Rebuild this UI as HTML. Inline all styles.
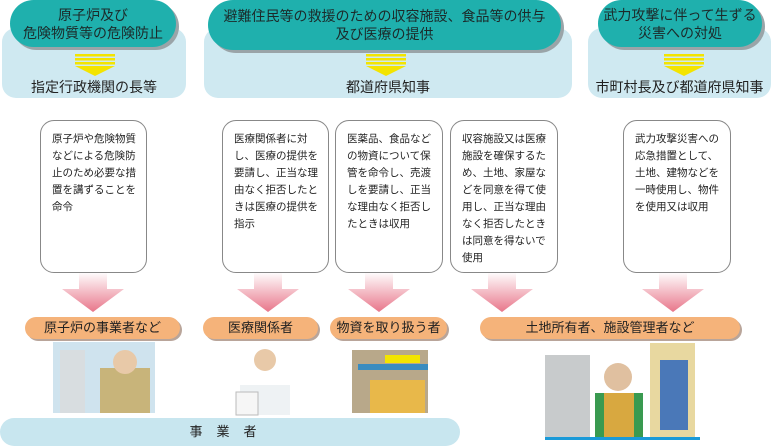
<!DOCTYPE html>
<html><head><meta charset="utf-8"><style>
body{margin:0;width:773px;height:446px;background:#fff;position:relative;overflow:hidden;font-family:"Liberation Sans","Noto Sans CJK JP",sans-serif;}
.a{position:absolute;box-sizing:border-box}
.panel{background:#cfe9f1;border-radius:14px}
.pill{background:#1fb0ad;border-radius:28px;color:#1c2a2a;text-align:center;font-size:14px;line-height:18px;box-shadow:3px 3px 0 #9aa4a8;display:flex;align-items:center;justify-content:center}
.lbl{font-size:14px;color:#222;text-align:center}
.box{border:1.5px solid #888;border-radius:14px;background:#fff;font-size:10.5px;line-height:17px;color:#222;padding:10px 5px 0 11px}
.op{background:#f5b37a;border-radius:12px;box-shadow:2px 2px 0 #b9a59a;font-size:13px;text-align:center;line-height:22px;color:#222}
</style></head><body>
<div class="a panel" style="left:2px;top:28px;width:184px;height:70px"></div>
<div class="a panel" style="left:204px;top:28px;width:368px;height:70px"></div>
<div class="a panel" style="left:588px;top:28px;width:183px;height:70px"></div>
<div class="a pill" style="left:10px;top:0;width:166px;height:47px">原子炉及び<br>危険物質等の危険防止</div>
<div class="a pill" style="left:208px;top:0;width:353px;height:50px">避難住民等の救援のための収容施設、食品等の供与<br>及び医療の提供</div>
<div class="a pill" style="left:598px;top:0;width:164px;height:47px">武力攻撃に伴って生ずる<br>災害への対処</div>
<svg class="a" style="left:0;top:0" width="773" height="446">
<defs><linearGradient id="pg" x1="0" y1="0" x2="0" y2="1"><stop offset="0" stop-color="#fff"/><stop offset="1" stop-color="#e8768a"/></linearGradient></defs>
<g fill="#f3e400">
<g transform="translate(75,54)"><rect x="0" y="0" width="40" height="2.5"/><rect x="0" y="4" width="40" height="2.5"/><rect x="0" y="8" width="40" height="2.5"/><polygon points="0,12 40,12 20,22"/></g>
<g transform="translate(366,54)"><rect x="0" y="0" width="40" height="2.5"/><rect x="0" y="4" width="40" height="2.5"/><rect x="0" y="8" width="40" height="2.5"/><polygon points="0,12 40,12 20,22"/></g>
<g transform="translate(664,54)"><rect x="0" y="0" width="40" height="2.5"/><rect x="0" y="4" width="40" height="2.5"/><rect x="0" y="8" width="40" height="2.5"/><polygon points="0,12 40,12 20,22"/></g>
</g>
<g fill="url(#pg)">
<polygon transform="translate(93,272)" points="-14,0 14,0 14,17 31,17 0,40 -31,17 -14,17"/>
<polygon transform="translate(268,272)" points="-14,0 14,0 14,17 31,17 0,40 -31,17 -14,17"/>
<polygon transform="translate(379,272)" points="-14,0 14,0 14,17 31,17 0,40 -31,17 -14,17"/>
<polygon transform="translate(502,272)" points="-14,0 14,0 14,17 31,17 0,40 -31,17 -14,17"/>
<polygon transform="translate(673,272)" points="-14,0 14,0 14,17 31,17 0,40 -31,17 -14,17"/>
</g>
<g>
<rect x="53" y="342" width="102" height="71" fill="#cfe3ee"/><rect x="100" y="368" width="50" height="45" fill="#c8b47a"/><circle cx="125" cy="362" r="12" fill="#e8c9a8"/><rect x="60" y="350" width="25" height="63" fill="#d8dde0"/>
<rect x="240" y="385" width="50" height="30" fill="#eef2f4"/><circle cx="265" cy="360" r="11" fill="#e8c9a8"/><rect x="236" y="392" width="22" height="23" fill="#f6f6f6" stroke="#bbb"/>
<rect x="352" y="350" width="76" height="63" fill="#b8a88a"/><rect x="370" y="380" width="55" height="33" fill="#e8b84a"/><rect x="385" y="355" width="35" height="8" fill="#f3e400"/><rect x="358" y="364" width="70" height="6" fill="#3a8cc0"/>
<rect x="545" y="355" width="45" height="85" fill="#c8cbcc"/><rect x="650" y="343" width="45" height="97" fill="#e8d8a0"/><rect x="660" y="360" width="28" height="70" fill="#4a78b8"/><circle cx="618" cy="377" r="14" fill="#e0c0a0"/><rect x="595" y="393" width="48" height="47" fill="#d8a840"/><rect x="595" y="393" width="9" height="47" fill="#3a9a50"/><rect x="634" y="393" width="9" height="47" fill="#3a9a50"/><rect x="545" y="437" width="155" height="3" fill="#1a9ad8"/>
</g>
</svg>
<div class="a lbl" style="left:2px;top:77px;width:184px">指定行政機関の長等</div>
<div class="a lbl" style="left:204px;top:77px;width:368px">都道府県知事</div>
<div class="a lbl" style="left:588px;top:77px;width:183px">市町村長及び都道府県知事</div>
<div class="a box" style="left:40px;top:120px;width:107px;height:153px">原子炉や危険物質などによる危険防止のため必要な措置を講ずることを命令</div>
<div class="a box" style="left:222px;top:120px;width:107px;height:153px">医療関係者に対し、医療の提供を要請し、正当な理由なく拒否したときは医療の提供を指示</div>
<div class="a box" style="left:335px;top:120px;width:108px;height:153px">医薬品、食品などの物資について保管を命令し、売渡しを要請し、正当な理由なく拒否したときは収用</div>
<div class="a box" style="left:450px;top:120px;width:108px;height:153px">収容施設又は医療施設を確保するため、土地、家屋などを同意を得て使用し、正当な理由なく拒否したときは同意を得ないで使用</div>
<div class="a box" style="left:623px;top:120px;width:108px;height:153px">武力攻撃災害への応急措置として、土地、建物などを一時使用し、物件を使用又は収用</div>
<div class="a op" style="left:25px;top:317px;width:155px;height:22px">原子炉の事業者など</div>
<div class="a op" style="left:203px;top:317px;width:115px;height:22px">医療関係者</div>
<div class="a op" style="left:330px;top:317px;width:117px;height:22px">物資を取り扱う者</div>
<div class="a op" style="left:480px;top:317px;width:260px;height:22px">土地所有者、施設管理者など</div>
<div class="a" style="left:0;top:418px;width:460px;height:28px;background:#c8e6ef;border-radius:14px;text-align:center;font-size:13px;line-height:28px;color:#222;letter-spacing:14px">事業者</div>
</body></html>
